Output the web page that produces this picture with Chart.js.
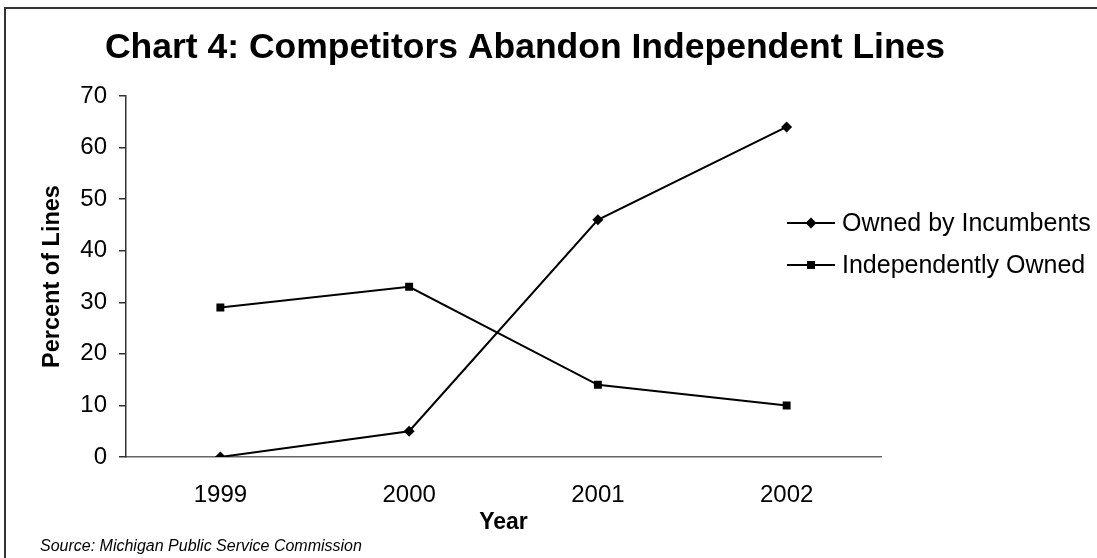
<!DOCTYPE html>
<html>
<head>
<meta charset="utf-8">
<script src="https://cdn.jsdelivr.net/npm/chart.js@4/dist/chart.umd.min.js"></script>
<style>
  html, body { margin: 0; padding: 0; background: #fff; overflow: hidden; }
  #wrap { position: relative; width: 1097px; height: 558px; overflow: hidden; }
  #frame { position: absolute; left: 4px; top: 7px; width: 1200px; height: 700px;
           border-left: 2px solid #333; border-top: 2px solid #333; pointer-events: none; }
  canvas { position: absolute; left: 0; top: 0; }
</style>
</head>
<body>
<div id="wrap">
  <canvas id="c" width="1097" height="558"></canvas>
  <div id="frame"></div>
</div>
<script>
const chartTitle = 'Chart 4: Competitors Abandon Independent Lines';
const sourceNote = 'Source: Michigan Public Service Commission';
const years = ['1999', '2000', '2001', '2002'];
const seriesNames = ['Owned by Incumbents', 'Independently Owned'];
const ownedByIncumbents = [0, 5, 46, 64];
const independentlyOwned = [29, 33, 14, 10];
const yTicks = [0, 10, 20, 30, 40, 50, 60, 70];

const FONT = 'Arial, "Liberation Sans", sans-serif';

const overlay = {
  id: 'overlay',
  afterDraw(chart) {
    const ctx = chart.ctx;
    ctx.save();
    // title
    ctx.fillStyle = '#000';
    ctx.font = 'bold 35.5px ' + FONT;
    ctx.textAlign = 'center';
    ctx.textBaseline = 'alphabetic';
    ctx.fillText(chartTitle, 525, 58);
    // legend
    const rows = [223, 265];
    chart.data.datasets.forEach((ds, i) => {
      const y = rows[i];
      ctx.strokeStyle = ds.borderColor;
      ctx.lineWidth = 2;
      ctx.beginPath();
      ctx.moveTo(787, y);
      ctx.lineTo(835, y);
      ctx.stroke();
      ctx.fillStyle = ds.pointBackgroundColor;
      Chart.helpers.drawPoint(ctx, {pointStyle: ds.pointStyle, radius: ds.pointRadius, borderWidth: 0}, 811, y);
      ctx.fillStyle = '#000';
      ctx.font = '25px ' + FONT;
      ctx.textAlign = 'left';
      ctx.textBaseline = 'middle';
      ctx.fillText(ds.label, 842, y + 1);
    });
    // source
    ctx.font = 'italic 16px ' + FONT;
    ctx.textAlign = 'left';
    ctx.textBaseline = 'alphabetic';
    ctx.fillStyle = '#000';
    ctx.fillText(sourceNote, 40, 551);
    ctx.restore();
  }
};

new Chart(document.getElementById('c'), {
  type: 'line',
  data: {
    labels: years,
    datasets: [
      {
        label: seriesNames[0],
        data: ownedByIncumbents,
        borderColor: '#000',
        backgroundColor: '#000',
        pointBackgroundColor: '#000',
        pointBorderColor: '#000',
        borderWidth: 2,
        pointStyle: 'rectRot',
        pointRadius: 5.5,
        pointBorderWidth: 0,
        tension: 0
      },
      {
        label: seriesNames[1],
        data: independentlyOwned,
        borderColor: '#000',
        backgroundColor: '#000',
        pointBackgroundColor: '#000',
        pointBorderColor: '#000',
        borderWidth: 2,
        pointStyle: 'rect',
        pointRadius: 5.6,
        pointBorderWidth: 0,
        tension: 0
      }
    ]
  },
  options: {
    responsive: false,
    animation: false,
    layout: { padding: { top: 96, right: 216, left: 0, bottom: 0 } },
    plugins: {
      legend: { display: false },
      title: { display: false },
      tooltip: { enabled: false }
    },
    scales: {
      x: {
        type: 'category',
        offset: true,
        grid: { display: false },
        border: { display: true, color: '#666', width: 1.5 },
        ticks: { color: '#000', font: { family: FONT, size: 24 }, padding: 16 },
        title: { display: true, text: 'Year', color: '#000',
                 font: { family: FONT, size: 23, weight: 'bold' }, padding: { top: 0, bottom: 22 } },
        afterFit(scale) { scale.height = 101; }
      },
      y: {
        min: 0,
        max: 70,
        afterBuildTicks(scale) { scale.ticks = yTicks.map(v => ({ value: v })); },
        grid: { drawOnChartArea: false, drawTicks: true, tickLength: 7, color: '#333', lineWidth: 1.5 },
        border: { display: true, color: '#333', width: 1.5 },
        ticks: { color: '#000', font: { family: FONT, size: 24 }, padding: 12 },
        title: { display: true, text: 'Percent of Lines', color: '#000',
                 font: { family: FONT, size: 23.5, weight: 'bold' }, padding: { top: 38, bottom: 0 } },
        afterFit(scale) { scale.width = 126; }
      }
    }
  },
  plugins: [overlay]
});
</script>
</body>
</html>
